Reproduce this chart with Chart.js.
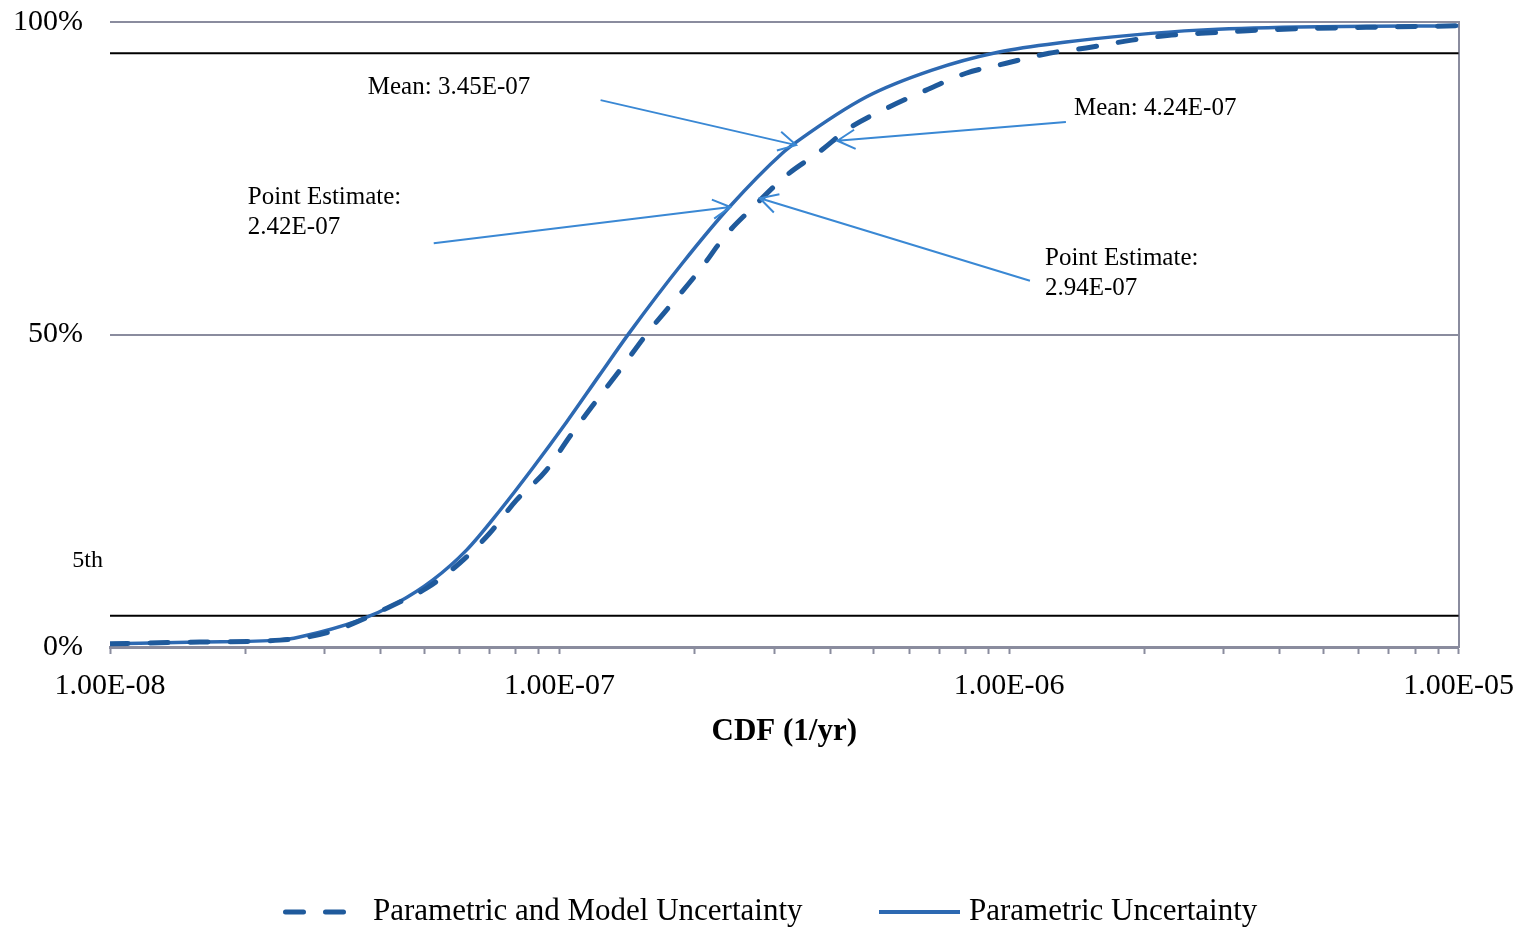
<!DOCTYPE html>
<html>
<head>
<meta charset="utf-8">
<script src="https://cdn.jsdelivr.net/npm/chart.js@4/dist/chart.umd.min.js"></script>
<style>
  body { margin: 0; background: #fff; }
  canvas { display: block; }
</style>
</head>
<body>
<canvas id="cdfChart" width="1528" height="930"></canvas>
<script>
// CDF values (1/yr) and cumulative percent
let paramCdf = [1e-8, 1.585e-8, 2.39e-8, 2.64e-8, 3.59e-8, 4.34e-8, 5.22e-8, 6.21e-8, 7.36e-8, 8.71e-8,
    1.037e-7, 1.227e-7, 1.431e-7, 1.876e-7, 2.387e-7, 3.13e-7, 3.41e-7, 4.81e-7, 6.74e-7, 9.5e-7,
    1.34e-6, 1.876e-6, 2.64e-6, 4.41e-6, 1e-5];
let paramPct = [0.5, 0.8, 1.1, 1.6, 4.3, 7.0, 10.7, 15.5, 21.8, 28.6,
    36.0, 43.5, 50.3, 61.4, 70.4, 79.0, 81.1, 88.0, 92.3, 95.2,
    96.8, 97.9, 98.7, 99.2, 99.4];

let modelCdf = [1e-8, 1.585e-8, 2.39e-8, 3.08e-8, 4.41e-8, 5.06e-8, 5.99e-8, 6.99e-8, 8.02e-8, 9.35e-8,
    1.052e-7, 1.184e-7, 1.359e-7, 1.56e-7, 2.05e-7, 2.35e-7, 2.68e-7, 3.19e-7, 3.78e-7, 4.41e-7,
    5.41e-7, 6.54e-7, 8.02e-7, 9.85e-7, 1.227e-6, 1.53e-6, 1.876e-6, 2.3e-6, 2.88e-6, 3.59e-6, 1e-5];
let modelPct = [0.5, 0.8, 1.1, 2.4, 7.2, 9.4, 13.4, 18.2, 23.5, 28.3,
    33.6, 38.6, 44.2, 50.0, 60.3, 66.0, 70.2, 75.4, 79.2, 83.0,
    86.4, 89.1, 91.8, 93.4, 95.0, 96.0, 97.1, 97.9, 98.3, 98.7, 99.4];

let seriesNames = ["Parametric and Model Uncertainty", "Parametric Uncertainty"];

let xDecades = [1e-8, 1e-7, 1e-6, 1e-5];
let xTickLabels = ["1.00E-08", "1.00E-07", "1.00E-06", "1.00E-05"];
let yTickValues = [0, 50, 100];
let yTickLabels = ["0%", "50%", "100%"];
let percentileLines = [5, 95];

// arrows: tail and tip as [cdf, percent]
let arrowTails = [[1.234e-7, 87.5], [1.338e-6, 84.0], [5.25e-8, 64.6], [1.113e-6, 58.6]];
let arrowTips = [[3.36e-7, 80.3], [4.15e-7, 81.0], [2.40e-7, 70.4], [2.79e-7, 71.8]];
let noteAnchors = [[3.745e-8, 89.6], [1.394e-6, 86.24], [2.026e-8, 72.0], [1.202e-6, 62.24]];
let noteTexts = [["Mean: 3.45E-07"], ["Mean: 4.24E-07"], ["Point Estimate:", "2.42E-07"], ["Point Estimate:", "2.94E-07"]];

const serif = "'Liberation Serif', 'Times New Roman', serif";
const axisGray = "#8a8c9e";
const arrowBlue = "#3a88d4";
const solidBlue = "#2d69b2";
const dashBlue = "#1f5a9c";

function toPoints(xs, ys){
    return xs.map(function(x, i){ return {x: x, y: ys[i]}; });
}

const extras = {
    id: "extras",
    beforeDatasetsDraw(chart){
        const ctx = chart.ctx;
        const area = chart.chartArea;
        const ys = chart.scales.y;
        ctx.save();
        ctx.strokeStyle = "#000";
        ctx.lineWidth = 2;
        percentileLines.forEach(function(p){
            let py = ys.getPixelForValue(p);
            ctx.beginPath();
            ctx.moveTo(area.left, py);
            ctx.lineTo(area.right, py);
            ctx.stroke();
        });
        ctx.fillStyle = "#000";
        ctx.font = "24px " + serif;
        ctx.textAlign = "right";
        ctx.textBaseline = "middle";
        ctx.fillText("5th", area.left - 7, ys.getPixelForValue(percentileLines[0]) - 55);
        ctx.restore();
    },
    afterDatasetsDraw(chart){
        const ctx = chart.ctx;
        const xs = chart.scales.x;
        const ys = chart.scales.y;
        ctx.save();
        ctx.strokeStyle = arrowBlue;
        ctx.lineWidth = 2;
        for (let i = 0; i < arrowTips.length; i++){
            let x0 = xs.getPixelForValue(arrowTails[i][0]);
            let y0 = ys.getPixelForValue(arrowTails[i][1]);
            let x1 = xs.getPixelForValue(arrowTips[i][0]);
            let y1 = ys.getPixelForValue(arrowTips[i][1]);
            let ang = Math.atan2(y1 - y0, x1 - x0);
            ctx.beginPath();
            ctx.moveTo(x0, y0);
            ctx.lineTo(x1, y1);
            ctx.moveTo(x1 - 20 * Math.cos(ang - 0.5), y1 - 20 * Math.sin(ang - 0.5));
            ctx.lineTo(x1, y1);
            ctx.lineTo(x1 - 20 * Math.cos(ang + 0.5), y1 - 20 * Math.sin(ang + 0.5));
            ctx.stroke();
        }
        ctx.fillStyle = "#000";
        ctx.font = "25px " + serif;
        ctx.textAlign = "left";
        ctx.textBaseline = "middle";
        for (let i = 0; i < noteAnchors.length; i++){
            let tx = xs.getPixelForValue(noteAnchors[i][0]);
            let ty = ys.getPixelForValue(noteAnchors[i][1]);
            noteTexts[i].forEach(function(line, j){
                ctx.fillText(line, tx, ty + j * 30);
            });
        }
        ctx.restore();
    },
    afterDraw(chart){
        // legend at the bottom
        const ctx = chart.ctx;
        let ly = 912;
        ctx.save();
        ctx.strokeStyle = dashBlue;
        ctx.lineWidth = 5;
        ctx.lineCap = "round";
        ctx.setLineDash([18, 22]);
        ctx.beginPath();
        ctx.moveTo(285.5, ly);
        ctx.lineTo(345, ly);
        ctx.stroke();
        ctx.setLineDash([]);
        ctx.lineCap = "butt";
        ctx.strokeStyle = solidBlue;
        ctx.lineWidth = 4;
        ctx.beginPath();
        ctx.moveTo(879, ly);
        ctx.lineTo(960, ly);
        ctx.stroke();
        ctx.fillStyle = "#000";
        ctx.font = "31px " + serif;
        ctx.textAlign = "left";
        ctx.textBaseline = "middle";
        ctx.fillText(seriesNames[0], 373, ly);
        ctx.fillText(seriesNames[1], 969, ly);
        ctx.restore();
    }
};

let ctx = document.getElementById("cdfChart").getContext("2d");
let myChart = new Chart(ctx, {
    type: "line",
    data: {
        datasets: [{
            label: seriesNames[0],
            data: toPoints(modelCdf, modelPct),
            borderColor: dashBlue,
            borderWidth: 5,
            borderDash: [18, 22],
            borderCapStyle: "round",
            pointRadius: 0,
            cubicInterpolationMode: "monotone",
            fill: false
        }, {
            label: seriesNames[1],
            data: toPoints(paramCdf, paramPct),
            borderColor: solidBlue,
            borderWidth: 3.5,
            pointRadius: 0,
            cubicInterpolationMode: "monotone",
            fill: false
        }]
    },
    options: {
        responsive: false,
        animation: false,
        layout: { padding: { top: 22, left: 0, right: 0, bottom: 0 } },
        plugins: {
            legend: { display: false },
            tooltip: { enabled: false }
        },
        scales: {
            x: {
                type: "logarithmic",
                min: 1e-8,
                max: 1e-5,
                afterBuildTicks: function(scale){
                    let ticks = [];
                    for (let d = 0; d < xDecades.length; d++){
                        ticks.push({value: xDecades[d], major: true});
                        if (d < xDecades.length - 1){
                            for (let m = 2; m <= 9; m++){
                                ticks.push({value: xDecades[d] * m, major: false});
                            }
                        }
                    }
                    scale.ticks = ticks;
                },
                afterFit: function(scale){ scale.height = 283; },
                border: { display: true, color: axisGray, width: 3 },
                grid: {
                    drawOnChartArea: false,
                    drawTicks: true,
                    tickLength: 7,
                    tickColor: axisGray,
                    tickWidth: 2
                },
                ticks: {
                    autoSkip: false,
                    maxRotation: 0,
                    padding: 14,
                    color: "#000",
                    font: { family: serif, size: 30 },
                    callback: function(value){
                        let idx = xDecades.findIndex(function(d){ return Math.abs(d - value) / d < 1e-6; });
                        return idx >= 0 ? xTickLabels[idx] : "";
                    }
                },
                title: {
                    display: true,
                    text: "CDF (1/yr)",
                    color: "#000",
                    font: { family: serif, size: 31, weight: "bold" },
                    padding: { top: 0, bottom: 179 }
                }
            },
            y: {
                min: 0,
                max: 100,
                afterBuildTicks: function(scale){
                    scale.ticks = yTickValues.map(function(v){ return {value: v}; });
                },
                afterFit: function(scale){
                    scale.width = 110;
                    scale.paddingTop = 0;
                    scale.paddingBottom = 0;
                },
                border: { display: false },
                grid: {
                    drawTicks: false,
                    lineWidth: 2,
                    color: function(c){ return c.tick && c.tick.value === 0 ? "rgba(0,0,0,0)" : axisGray; }
                },
                ticks: {
                    padding: 27,
                    color: "#000",
                    font: { family: serif, size: 30 },
                    callback: function(value){
                        let idx = yTickValues.indexOf(value);
                        return idx >= 0 ? yTickLabels[idx] : "";
                    }
                }
            },
            y2: {
                position: "right",
                min: 0,
                max: 100,
                afterFit: function(scale){
                    scale.width = 68;
                    scale.paddingTop = 0;
                    scale.paddingBottom = 0;
                },
                border: { display: true, color: axisGray, width: 2 },
                grid: { display: false },
                ticks: { display: false }
            }
        }
    },
    plugins: [extras]
});
</script>
</body>
</html>
